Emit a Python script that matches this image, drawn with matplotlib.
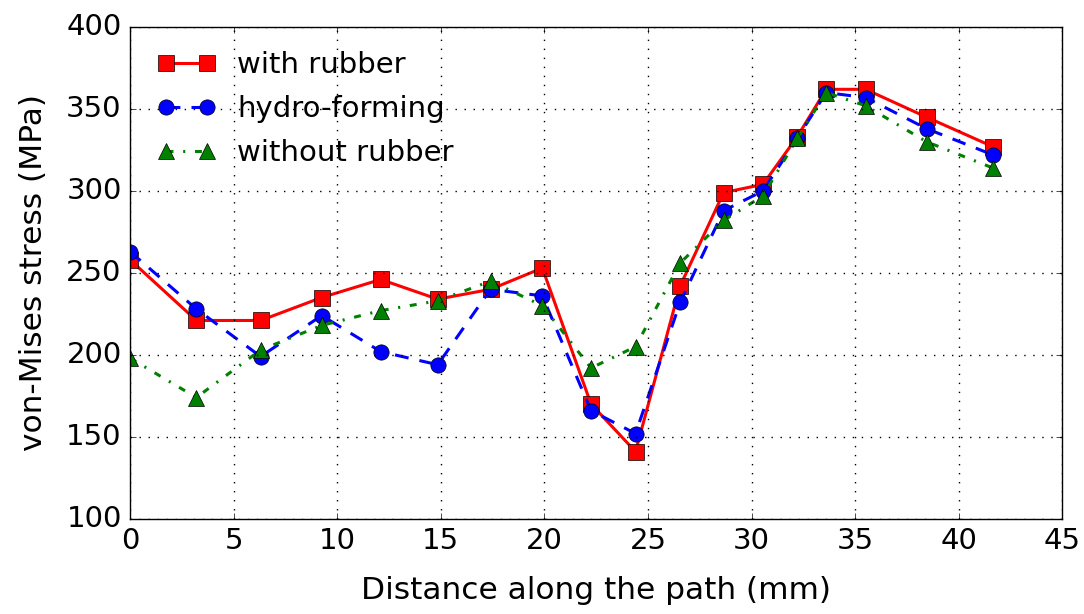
import matplotlib
matplotlib.use("Agg")
import matplotlib.pyplot as plt

plt.style.use("classic")

# distance along the path (mm)
dist = [0.0, 3.2, 6.3, 9.25, 12.1, 14.85, 17.4, 19.9, 22.25, 24.4,
        26.55, 28.65, 30.55, 32.2, 33.6, 35.5, 38.45, 41.65]

with_rubber = [258, 221, 221, 235, 246, 234, 240, 253, 170, 141,
               242, 299, 304, 333, 362, 362, 345, 327]
hydro_forming = [263, 228, 199, 224, 202, 194, 240, 236, 166, 152,
                 232, 288, 300, 332, 360, 357, 338, 322]
without_rubber = [198, 174, 203, 218, 227, 233, 245, 230, 192, 205,
                  256, 282, 297, 332, 360, 352, 330, 314]

fig = plt.figure(figsize=(10.84, 6.14), dpi=100, facecolor="white")
ax = fig.add_axes([0.12, 0.155, 0.86, 0.801])

ax.plot(dist, with_rubber, "rs-", lw=2.2, ms=11, label="with rubber")
ax.plot(dist, hydro_forming, "bo--", lw=2.2, ms=11, dashes=(10, 8),
        label="hydro-forming")
ax.plot(dist, without_rubber, "g^-.", lw=2.2, ms=11, dashes=(5, 7, 1.5, 7),
        label="without rubber")

ax.set_xlim(0, 45)
ax.set_ylim(100, 400)
ax.grid(True, lw=1, dashes=(1, 5.5))
ax.tick_params(labelsize=21, pad=6)
ax.set_xlabel("Distance along the path (mm)", fontsize=22.5, labelpad=15)
ax.set_ylabel("von-Mises stress (MPa)", fontsize=22.5, labelpad=13)
ax.legend(loc="upper left", bbox_to_anchor=(0.029, 0.951), frameon=False,
          fontsize=21, numpoints=2, borderpad=0, borderaxespad=0,
          handlelength=2.0, handletextpad=0.75, labelspacing=0.55)

fig.savefig("out.png", dpi=100, facecolor="white")
